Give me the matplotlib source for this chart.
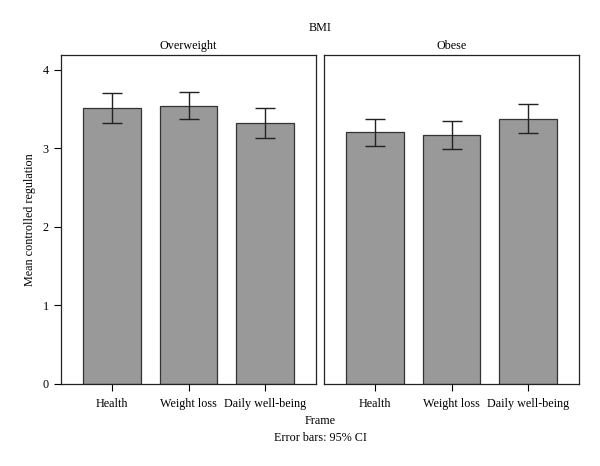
import numpy as np
import matplotlib
matplotlib.use("Agg")
import matplotlib.pyplot as plt

plt.rcParams['font.family'] = ['Liberation Serif', 'DejaVu Serif']

frames = ["Health", "Weight loss", "Daily well-being"]
groups = ["Overweight", "Obese"]
# means and 95% CI bounds
means = {"Overweight": [3.51, 3.54, 3.32], "Obese": [3.21, 3.17, 3.38]}
ci_low = {"Overweight": [3.33, 3.37, 3.13], "Obese": [3.03, 2.99, 3.20]}
ci_high = {"Overweight": [3.70, 3.72, 3.51], "Obese": [3.37, 3.35, 3.56]}

fs = 8.7
fig = plt.figure(figsize=(6, 4.66), dpi=100)
W, H = 600, 466
boxes = [(61, 316), (324, 579)]
top, bottom = 55, 384

x = np.arange(len(frames))
for i, (g, (x0, x1)) in enumerate(zip(groups, boxes)):
    ax = fig.add_axes([x0 / W, 1 - bottom / H, (x1 - x0) / W, (bottom - top) / H])
    m = np.array(means[g])
    lo = m - np.array(ci_low[g])
    hi = np.array(ci_high[g]) - m
    ax.bar(x, m, width=0.75, color="#999999", edgecolor="#333333", linewidth=0.9)
    ax.errorbar(x, m, yerr=[lo, hi], fmt="none", ecolor="#222222",
                elinewidth=1.0, capsize=7, capthick=1.0)
    ax.set_xlim(-0.667, 2.667)
    ax.set_ylim(0, 4.19)
    ax.set_xticks(x)
    ax.set_xticklabels(frames, fontsize=fs)
    ax.tick_params(axis="x", length=5, width=0.8, pad=5)
    if i == 0:
        ax.set_yticks([0, 1, 2, 3, 4])
        ax.tick_params(axis="y", length=5, width=0.8, labelsize=fs, pad=4)
    else:
        ax.set_yticks([])
    for s in ax.spines.values():
        s.set_linewidth(0.9)
        s.set_color("#222222")
    ax.set_title(g, fontsize=fs, pad=4)

fig.text(320 / W, 1 - 28 / H, "BMI", ha="center", va="center", fontsize=fs)
fig.text(320 / W, 1 - 421 / H, "Frame", ha="center", va="center", fontsize=fs)
fig.text(320 / W, 1 - 438 / H, "Error bars: 95% CI", ha="center", va="center", fontsize=fs)
fig.text(30 / W, 1 - 220 / H, "Mean controlled regulation", ha="center", va="center",
         rotation=90, fontsize=fs)

fig.savefig("out.png", dpi=100)
